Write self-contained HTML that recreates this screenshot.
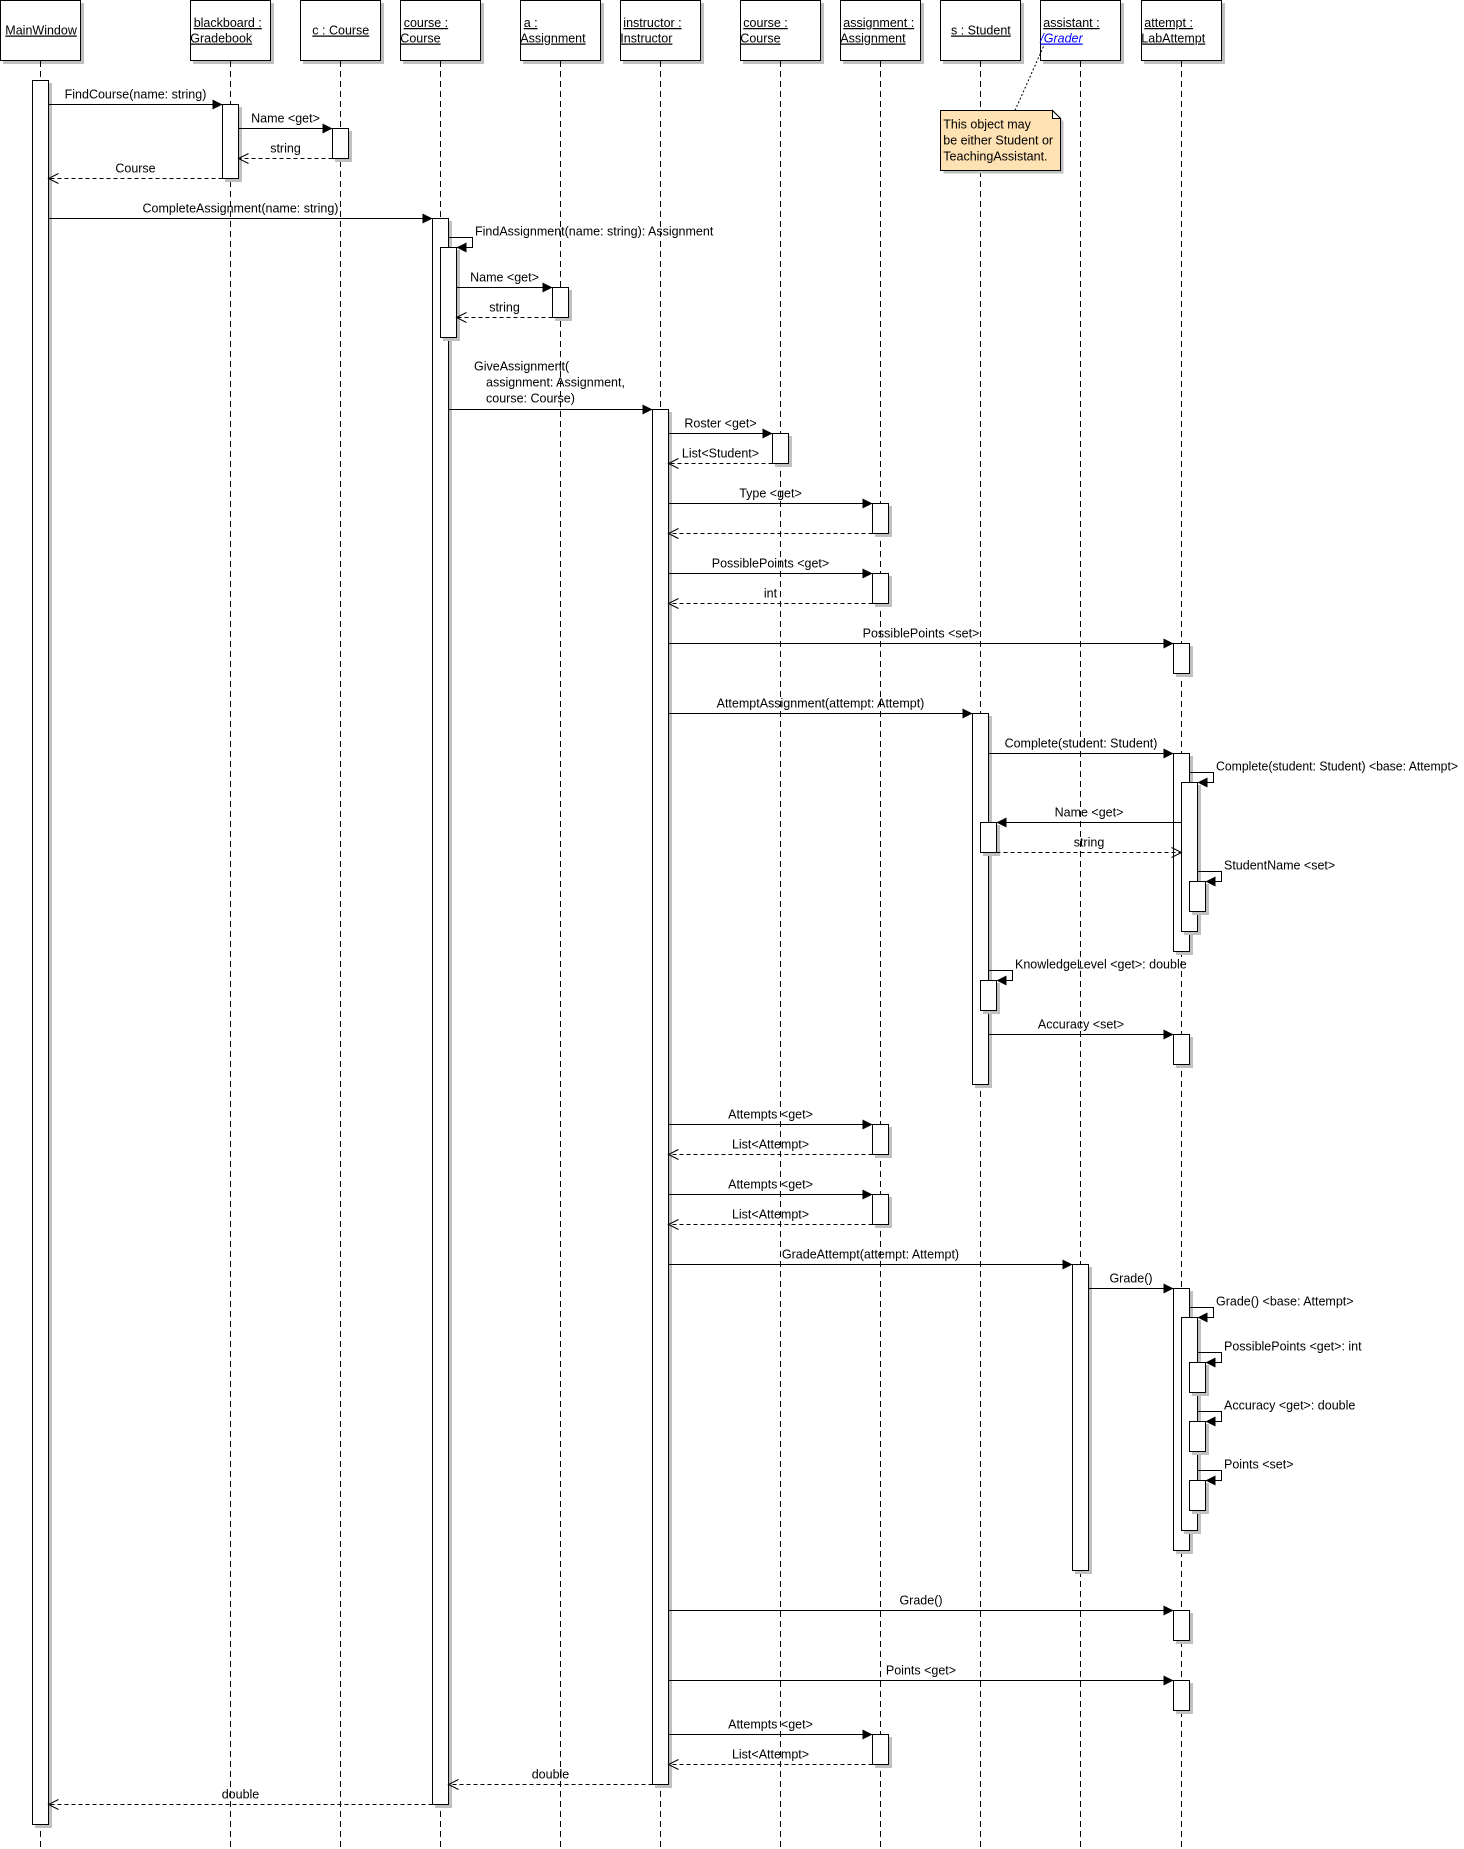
<!DOCTYPE html>
<html>
<head>
<meta charset="utf-8">
<style>
html,body{margin:0;padding:0;background:#fff;}
svg{display:block;}
text{font-family:"Liberation Sans",Arial,sans-serif;font-size:12.5px;fill:#000;}
.sh{fill:#c0c0c0;stroke:none;}
.ac{fill:#fff;stroke:#000;stroke-width:1;}
.hb{fill:#fff;stroke:#000;stroke-width:1;}
.ll{stroke:#000;stroke-width:1;stroke-dasharray:6 4;fill:none;}
.m{stroke:#000;stroke-width:1;fill:none;}
.r{stroke:#000;stroke-width:1;fill:none;stroke-dasharray:4 3;}
.oa{stroke:#000;stroke-width:1;fill:none;}
.ah{fill:#000;stroke:none;}
.u{text-decoration:underline;}
.c{text-anchor:middle;}
</style>
</head>
<body>
<svg width="1464" height="1849" viewBox="0 0 1464 1849" xmlns="http://www.w3.org/2000/svg">
<rect x="0" y="0" width="1464" height="1849" fill="#fff"/>

<!-- header shadows and boxes -->
<g>
<rect class="sh" x="3" y="3" width="81" height="61"/><rect class="hb" x="0.5" y="0.5" width="80" height="60"/>
<rect class="sh" x="193" y="3" width="81" height="61"/><rect class="hb" x="190.5" y="0.5" width="80" height="60"/>
<rect class="sh" x="303" y="3" width="81" height="61"/><rect class="hb" x="300.5" y="0.5" width="80" height="60"/>
<rect class="sh" x="403" y="3" width="81" height="61"/><rect class="hb" x="400.5" y="0.5" width="80" height="60"/>
<rect class="sh" x="523" y="3" width="81" height="61"/><rect class="hb" x="520.5" y="0.5" width="80" height="60"/>
<rect class="sh" x="623" y="3" width="81" height="61"/><rect class="hb" x="620.5" y="0.5" width="80" height="60"/>
<rect class="sh" x="743" y="3" width="81" height="61"/><rect class="hb" x="740.5" y="0.5" width="80" height="60"/>
<rect class="sh" x="843" y="3" width="81" height="61"/><rect class="hb" x="840.5" y="0.5" width="80" height="60"/>
<rect class="sh" x="943" y="3" width="81" height="61"/><rect class="hb" x="940.5" y="0.5" width="80" height="60"/>
<rect class="sh" x="1043" y="3" width="81" height="61"/><rect class="hb" x="1040.5" y="0.5" width="80" height="60"/>
<rect class="sh" x="1144" y="3" width="81" height="61"/><rect class="hb" x="1141.5" y="0.5" width="80" height="60"/>
</g>

<!-- header labels -->
<g>
<text class="u" x="5.3" y="34.5">MainWindow</text>
<text class="u" x="193.7" y="27">blackboard :</text>
<text class="u" x="190.3" y="42.5">Gradebook</text>
<text class="u" x="312.3" y="34.5">c : Course</text>
<text class="u" x="403.7" y="27">course :</text>
<text class="u" x="400.3" y="42.5">Course</text>
<text class="u" x="523.7" y="27">a :</text>
<text class="u" x="520.3" y="42.5">Assignment</text>
<text class="u" x="623.3" y="27">instructor :</text>
<text class="u" x="620.3" y="42.5">Instructor</text>
<text class="u" x="743.3" y="27">course :</text>
<text class="u" x="740.3" y="42.5">Course</text>
<text class="u" x="843.3" y="27">assignment :</text>
<text class="u" x="840.3" y="42.5">Assignment</text>
<text class="u" x="951" y="34.5">s : Student</text>
<text class="u" x="1043.3" y="27">assistant :</text>
<text class="u" x="1040.3" y="42.5" style="font-style:italic;fill:#0000ff;">/Grader</text>
<text class="u" x="1144.3" y="27">attempt :</text>
<text class="u" x="1141.3" y="42.5">LabAttempt</text>
</g>

<!-- lifelines -->
<g>
<line class="ll" x1="40.5" y1="61" x2="40.5" y2="1849"/>
<line class="ll" x1="230.5" y1="61" x2="230.5" y2="1849"/>
<line class="ll" x1="340.5" y1="61" x2="340.5" y2="1849"/>
<line class="ll" x1="440.5" y1="61" x2="440.5" y2="1849"/>
<line class="ll" x1="560.5" y1="61" x2="560.5" y2="1849"/>
<line class="ll" x1="660.5" y1="61" x2="660.5" y2="1849"/>
<line class="ll" x1="780.5" y1="61" x2="780.5" y2="1849"/>
<line class="ll" x1="880.5" y1="61" x2="880.5" y2="1849"/>
<line class="ll" x1="980.5" y1="61" x2="980.5" y2="1849"/>
<line class="ll" x1="1080.5" y1="61" x2="1080.5" y2="1849"/>
<line class="ll" x1="1181.5" y1="61" x2="1181.5" y2="1849"/>
</g>

<!-- activations -->
<g>
<rect class="sh" x="35" y="83" width="17" height="1745"/><rect class="ac" x="32.5" y="80.5" width="16" height="1744"/>
<rect class="sh" x="225" y="107" width="17" height="75"/><rect class="ac" x="222.5" y="104.5" width="16" height="74"/>
<rect class="sh" x="335" y="131" width="17" height="31"/><rect class="ac" x="332.5" y="128.5" width="16" height="30"/>
<rect class="sh" x="435" y="221" width="17" height="1587"/><rect class="ac" x="432.5" y="218.5" width="16" height="1586"/>
<rect class="sh" x="443" y="250" width="17" height="91"/><rect class="ac" x="440.5" y="247.5" width="16" height="90"/>
<rect class="sh" x="555" y="290" width="17" height="31"/><rect class="ac" x="552.5" y="287.5" width="16" height="30"/>
<rect class="sh" x="655" y="412" width="17" height="1376"/><rect class="ac" x="652.5" y="409.5" width="16" height="1375"/>
<rect class="sh" x="775" y="436" width="17" height="31"/><rect class="ac" x="772.5" y="433.5" width="16" height="30"/>
<rect class="sh" x="875" y="506" width="17" height="31"/><rect class="ac" x="872.5" y="503.5" width="16" height="30"/>
<rect class="sh" x="875" y="576" width="17" height="31"/><rect class="ac" x="872.5" y="573.5" width="16" height="30"/>
<rect class="sh" x="1176" y="646" width="17" height="31"/><rect class="ac" x="1173.5" y="643.5" width="16" height="30"/>
<rect class="sh" x="975" y="716" width="17" height="372"/><rect class="ac" x="972.5" y="713.5" width="16" height="371"/>
<rect class="sh" x="1176" y="756" width="17" height="199"/><rect class="ac" x="1173.5" y="753.5" width="16" height="198"/>
<rect class="sh" x="1184" y="785" width="17" height="150"/><rect class="ac" x="1181.5" y="782.5" width="16" height="149"/>
<rect class="sh" x="983" y="825" width="17" height="31"/><rect class="ac" x="980.5" y="822.5" width="16" height="30"/>
<rect class="sh" x="1192" y="884" width="17" height="31"/><rect class="ac" x="1189.5" y="881.5" width="16" height="30"/>
<rect class="sh" x="983" y="983" width="17" height="31"/><rect class="ac" x="980.5" y="980.5" width="16" height="30"/>
<rect class="sh" x="1176" y="1037" width="17" height="31"/><rect class="ac" x="1173.5" y="1034.5" width="16" height="30"/>
<rect class="sh" x="875" y="1127" width="17" height="31"/><rect class="ac" x="872.5" y="1124.5" width="16" height="30"/>
<rect class="sh" x="875" y="1197" width="17" height="31"/><rect class="ac" x="872.5" y="1194.5" width="16" height="30"/>
<rect class="sh" x="1075" y="1267" width="17" height="307"/><rect class="ac" x="1072.5" y="1264.5" width="16" height="306"/>
<rect class="sh" x="1176" y="1291" width="17" height="263"/><rect class="ac" x="1173.5" y="1288.5" width="16" height="262"/>
<rect class="sh" x="1184" y="1320" width="17" height="214"/><rect class="ac" x="1181.5" y="1317.5" width="16" height="213"/>
<rect class="sh" x="1192" y="1365" width="17" height="31"/><rect class="ac" x="1189.5" y="1362.5" width="16" height="30"/>
<rect class="sh" x="1192" y="1424" width="17" height="31"/><rect class="ac" x="1189.5" y="1421.5" width="16" height="30"/>
<rect class="sh" x="1192" y="1483" width="17" height="31"/><rect class="ac" x="1189.5" y="1480.5" width="16" height="30"/>
<rect class="sh" x="1176" y="1613" width="17" height="31"/><rect class="ac" x="1173.5" y="1610.5" width="16" height="30"/>
<rect class="sh" x="1176" y="1683" width="17" height="31"/><rect class="ac" x="1173.5" y="1680.5" width="16" height="30"/>
<rect class="sh" x="875" y="1737" width="17" height="31"/><rect class="ac" x="872.5" y="1734.5" width="16" height="30"/>
</g>

<!-- synchronous messages -->
<g>
<line class="m" x1="48.5" y1="104.5" x2="222.5" y2="104.5"/><polygon class="ah" points="222.5,104.5 212.5,99.5 212.5,109.5"/>
<line class="m" x1="238.5" y1="128.5" x2="332.5" y2="128.5"/><polygon class="ah" points="332.5,128.5 322.5,123.5 322.5,133.5"/>
<line class="m" x1="48.5" y1="218.5" x2="432.5" y2="218.5"/><polygon class="ah" points="432.5,218.5 422.5,213.5 422.5,223.5"/>
<line class="m" x1="456.5" y1="287.5" x2="552.5" y2="287.5"/><polygon class="ah" points="552.5,287.5 542.5,282.5 542.5,292.5"/>
<line class="m" x1="448.5" y1="409.5" x2="652.5" y2="409.5"/><polygon class="ah" points="652.5,409.5 642.5,404.5 642.5,414.5"/>
<line class="m" x1="668.5" y1="433.5" x2="772.5" y2="433.5"/><polygon class="ah" points="772.5,433.5 762.5,428.5 762.5,438.5"/>
<line class="m" x1="668.5" y1="503.5" x2="872.5" y2="503.5"/><polygon class="ah" points="872.5,503.5 862.5,498.5 862.5,508.5"/>
<line class="m" x1="668.5" y1="573.5" x2="872.5" y2="573.5"/><polygon class="ah" points="872.5,573.5 862.5,568.5 862.5,578.5"/>
<line class="m" x1="668.5" y1="643.5" x2="1173.5" y2="643.5"/><polygon class="ah" points="1173.5,643.5 1163.5,638.5 1163.5,648.5"/>
<line class="m" x1="668.5" y1="713.5" x2="972.5" y2="713.5"/><polygon class="ah" points="972.5,713.5 962.5,708.5 962.5,718.5"/>
<line class="m" x1="988.5" y1="753.5" x2="1173.5" y2="753.5"/><polygon class="ah" points="1173.5,753.5 1163.5,748.5 1163.5,758.5"/>
<line class="m" x1="1181.5" y1="822.5" x2="996.5" y2="822.5"/><polygon class="ah" points="996.5,822.5 1006.5,817.5 1006.5,827.5"/>
<line class="m" x1="988.5" y1="1034.5" x2="1173.5" y2="1034.5"/><polygon class="ah" points="1173.5,1034.5 1163.5,1029.5 1163.5,1039.5"/>
<line class="m" x1="668.5" y1="1124.5" x2="872.5" y2="1124.5"/><polygon class="ah" points="872.5,1124.5 862.5,1119.5 862.5,1129.5"/>
<line class="m" x1="668.5" y1="1194.5" x2="872.5" y2="1194.5"/><polygon class="ah" points="872.5,1194.5 862.5,1189.5 862.5,1199.5"/>
<line class="m" x1="668.5" y1="1264.5" x2="1072.5" y2="1264.5"/><polygon class="ah" points="1072.5,1264.5 1062.5,1259.5 1062.5,1269.5"/>
<line class="m" x1="1088.5" y1="1288.5" x2="1173.5" y2="1288.5"/><polygon class="ah" points="1173.5,1288.5 1163.5,1283.5 1163.5,1293.5"/>
<line class="m" x1="668.5" y1="1610.5" x2="1173.5" y2="1610.5"/><polygon class="ah" points="1173.5,1610.5 1163.5,1605.5 1163.5,1615.5"/>
<line class="m" x1="668.5" y1="1680.5" x2="1173.5" y2="1680.5"/><polygon class="ah" points="1173.5,1680.5 1163.5,1675.5 1163.5,1685.5"/>
<line class="m" x1="668.5" y1="1734.5" x2="872.5" y2="1734.5"/><polygon class="ah" points="872.5,1734.5 862.5,1729.5 862.5,1739.5"/>
</g>

<!-- self calls -->
<g>
<polyline class="m" points="448.5,237.5 472.5,237.5 472.5,247.5 456.5,247.5"/><polygon class="ah" points="456.5,247.5 466.5,242.5 466.5,252.5"/>
<polyline class="m" points="1189.5,772.5 1213.5,772.5 1213.5,782.5 1197.5,782.5"/><polygon class="ah" points="1197.5,782.5 1207.5,777.5 1207.5,787.5"/>
<polyline class="m" points="1197.5,871.5 1221.5,871.5 1221.5,881.5 1205.5,881.5"/><polygon class="ah" points="1205.5,881.5 1215.5,876.5 1215.5,886.5"/>
<polyline class="m" points="988.5,970.5 1012.5,970.5 1012.5,980.5 996.5,980.5"/><polygon class="ah" points="996.5,980.5 1006.5,975.5 1006.5,985.5"/>
<polyline class="m" points="1189.5,1307.5 1213.5,1307.5 1213.5,1317.5 1197.5,1317.5"/><polygon class="ah" points="1197.5,1317.5 1207.5,1312.5 1207.5,1322.5"/>
<polyline class="m" points="1197.5,1352.5 1221.5,1352.5 1221.5,1362.5 1205.5,1362.5"/><polygon class="ah" points="1205.5,1362.5 1215.5,1357.5 1215.5,1367.5"/>
<polyline class="m" points="1197.5,1411.5 1221.5,1411.5 1221.5,1421.5 1205.5,1421.5"/><polygon class="ah" points="1205.5,1421.5 1215.5,1416.5 1215.5,1426.5"/>
<polyline class="m" points="1197.5,1470.5 1221.5,1470.5 1221.5,1480.5 1205.5,1480.5"/><polygon class="ah" points="1205.5,1480.5 1215.5,1475.5 1215.5,1485.5"/>
</g>

<!-- return messages -->
<g>
<line class="r" x1="332.5" y1="158.5" x2="238.5" y2="158.5"/><polyline class="oa" points="248.5,153.5 238.5,158.5 248.5,163.5"/>
<line class="r" x1="222.5" y1="178.5" x2="48.5" y2="178.5"/><polyline class="oa" points="58.5,173.5 48.5,178.5 58.5,183.5"/>
<line class="r" x1="552.5" y1="317.5" x2="456.5" y2="317.5"/><polyline class="oa" points="466.5,312.5 456.5,317.5 466.5,322.5"/>
<line class="r" x1="772.5" y1="463.5" x2="668.5" y2="463.5"/><polyline class="oa" points="678.5,458.5 668.5,463.5 678.5,468.5"/>
<line class="r" x1="872.5" y1="533.5" x2="668.5" y2="533.5"/><polyline class="oa" points="678.5,528.5 668.5,533.5 678.5,538.5"/>
<line class="r" x1="872.5" y1="603.5" x2="668.5" y2="603.5"/><polyline class="oa" points="678.5,598.5 668.5,603.5 678.5,608.5"/>
<line class="r" x1="996.5" y1="852.5" x2="1181.5" y2="852.5"/><polyline class="oa" points="1171.5,847.5 1181.5,852.5 1171.5,857.5"/>
<line class="r" x1="872.5" y1="1154.5" x2="668.5" y2="1154.5"/><polyline class="oa" points="678.5,1149.5 668.5,1154.5 678.5,1159.5"/>
<line class="r" x1="872.5" y1="1224.5" x2="668.5" y2="1224.5"/><polyline class="oa" points="678.5,1219.5 668.5,1224.5 678.5,1229.5"/>
<line class="r" x1="872.5" y1="1764.5" x2="668.5" y2="1764.5"/><polyline class="oa" points="678.5,1759.5 668.5,1764.5 678.5,1769.5"/>
<line class="r" x1="652.5" y1="1784.5" x2="448.5" y2="1784.5"/><polyline class="oa" points="458.5,1779.5 448.5,1784.5 458.5,1789.5"/>
<line class="r" x1="432.5" y1="1804.5" x2="48.5" y2="1804.5"/><polyline class="oa" points="58.5,1799.5 48.5,1804.5 58.5,1809.5"/>
</g>

<!-- message labels -->
<g>
<text class="c" x="135.5" y="98.5">FindCourse(name: string)</text>
<text class="c" x="285.5" y="122.5">Name &lt;get&gt;</text>
<text class="c" x="285.5" y="152.5">string</text>
<text class="c" x="135.5" y="172.5">Course</text>
<text class="c" x="240.5" y="212.5">CompleteAssignment(name: string)</text>
<text x="475" y="235.5">FindAssignment(name: string): Assignment</text>
<text class="c" x="504.5" y="281.5">Name &lt;get&gt;</text>
<text class="c" x="504.5" y="311.5">string</text>
<text x="474" y="370.5">GiveAssignment(</text>
<text x="486" y="386.5">assignment: Assignment,</text>
<text x="486" y="402.5">course: Course)</text>
<text class="c" x="720.5" y="427.5">Roster &lt;get&gt;</text>
<text class="c" x="720.5" y="457.5">List&lt;Student&gt;</text>
<text class="c" x="770.5" y="497.5">Type &lt;get&gt;</text>
<text class="c" x="770.5" y="567.5">PossiblePoints &lt;get&gt;</text>
<text class="c" x="770.5" y="597.5">int</text>
<text class="c" x="921" y="637.5">PossiblePoints &lt;set&gt;</text>
<text class="c" x="820.5" y="707.5">AttemptAssignment(attempt: Attempt)</text>
<text class="c" x="1081" y="747.5">Complete(student: Student)</text>
<text x="1216" y="770.5" textLength="242" lengthAdjust="spacingAndGlyphs">Complete(student: Student) &lt;base: Attempt&gt;</text>
<text class="c" x="1089" y="816.5">Name &lt;get&gt;</text>
<text class="c" x="1089" y="846.5">string</text>
<text x="1224" y="869.5">StudentName &lt;set&gt;</text>
<text x="1015" y="968.5">KnowledgeLevel &lt;get&gt;: double</text>
<text class="c" x="1081" y="1028.5">Accuracy &lt;set&gt;</text>
<text class="c" x="770.5" y="1118.5">Attempts &lt;get&gt;</text>
<text class="c" x="770.5" y="1148.5">List&lt;Attempt&gt;</text>
<text class="c" x="770.5" y="1188.5">Attempts &lt;get&gt;</text>
<text class="c" x="770.5" y="1218.5">List&lt;Attempt&gt;</text>
<text class="c" x="870.5" y="1258.5">GradeAttempt(attempt: Attempt)</text>
<text class="c" x="1131" y="1282.5">Grade()</text>
<text x="1216" y="1305.5">Grade() &lt;base: Attempt&gt;</text>
<text x="1224" y="1350.5">PossiblePoints &lt;get&gt;: int</text>
<text x="1224" y="1409.5">Accuracy &lt;get&gt;: double</text>
<text x="1224" y="1468.5">Points &lt;set&gt;</text>
<text class="c" x="921" y="1604.5">Grade()</text>
<text class="c" x="921" y="1674.5">Points &lt;get&gt;</text>
<text class="c" x="770.5" y="1728.5">Attempts &lt;get&gt;</text>
<text class="c" x="770.5" y="1758.5">List&lt;Attempt&gt;</text>
<text class="c" x="550.5" y="1778.5">double</text>
<text class="c" x="240.5" y="1798.5">double</text>
</g>

<!-- note -->
<g>
<line x1="1015" y1="110.5" x2="1043.5" y2="46.5" stroke="#000" stroke-width="1" stroke-dasharray="2 2"/>
<polygon class="sh" points="943.5,113.5 1055.5,113.5 1063.5,121.5 1063.5,173.5 943.5,173.5"/>
<polygon points="940.5,110.5 1052.5,110.5 1060.5,118.5 1060.5,170.5 940.5,170.5" fill="#ffe2b4" stroke="#000" stroke-width="1"/>
<polygon points="1052.5,110.5 1060.5,118.5 1052.5,118.5" fill="#fff" stroke="#000" stroke-width="1"/>
<text x="943.3" y="128.5">This object may</text>
<text x="943.3" y="144.5">be either Student or</text>
<text x="943.3" y="160.5">TeachingAssistant.</text>
</g>
</svg>
</body>
</html>
